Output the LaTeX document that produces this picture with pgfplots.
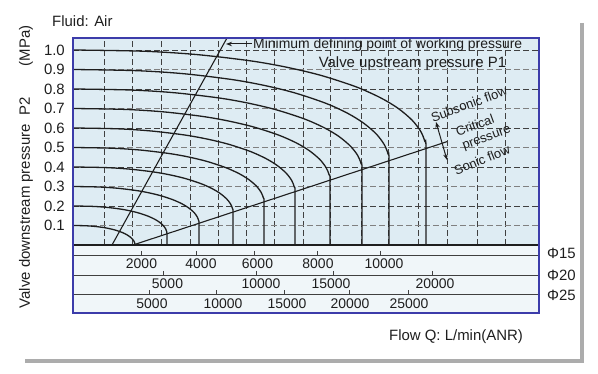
\documentclass[border=0pt]{standalone}
\usepackage{pgfplots}
\pgfplotsset{compat=1.18}
\usepackage{fontspec}
\setmainfont{Liberation Sans}
\usetikzlibrary{arrows.meta}
\definecolor{frameblue}{RGB}{60,60,170}
\definecolor{mainbg}{RGB}{222,236,243}
\definecolor{bandbg}{RGB}{240,246,249}
\definecolor{ink}{RGB}{30,30,30}
\definecolor{shadowgray}{RGB}{172,172,172}
\newcommand{\fs}[1]{\fontsize{#1}{#1}\selectfont}
\begin{document}
\begin{tikzpicture}
\useasboundingbox (0,0) rectangle (598bp,374bp);
\begin{axis}[
  at={(73bp,61bp)}, anchor=south west,
  scale only axis, width=466bp, height=275bp,
  xmin=73, xmax=539, ymin=-0.34872, ymax=1.06154,
  clip=false, axis on top,
  axis line style={draw=frameblue, line width=1.3bp},
  axis background/.style={fill=mainbg},
  xtick=\empty,
  ytick={0.1,0.2,0.3,0.4,0.5,0.6,0.7,0.8,0.9,1.0},
  yticklabels={0.1,0.2,0.3,0.4,0.5,0.6,0.7,0.8,0.9,1.0},
  major tick length=0pt,
  yticklabel style={font=\fs{15}, text=ink, inner sep=0pt, xshift=-8bp},
  gridv/.style={ink!85, line width=0.8bp, dash pattern=on 6bp off 3bp},
  curve/.style={ink, line width=1.3bp, smooth, tension=0.5},
  every axis plot/.append style={mark=none},
]
% lower band background
\addplot[fill=bandbg, draw=none] coordinates {(73,-0.34872) (539,-0.34872) (539,0) (73,0)} -- cycle;
% vertical grid (main area only)
\addplot[gridv, unbounded coords=jump] coordinates {
(104,0) (104,1.06154) (104,nan)
(132,0) (132,1.06154) (132,nan)
(161,0) (161,1.06154) (161,nan)
(190,0) (190,1.06154) (190,nan)
(218,0) (218,1.06154) (218,nan)
(246,0) (246,1.06154) (246,nan)
(274,0) (274,1.06154) (274,nan)
(303,0) (303,1.06154) (303,nan)
(330,0) (330,1.06154) (330,nan)
(361,0) (361,1.06154) (361,nan)
(388,0) (388,1.06154) (388,nan)
(418,0) (418,1.06154) (418,nan)
(447,0) (447,1.06154) (447,nan)
(477,0) (477,1.06154) (477,nan)
(505,0) (505,1.06154)
};
% horizontal grid
\addplot[gridv, gray, unbounded coords=jump] coordinates {
(73,0.1) (539,0.1) (nan,0.1)
(73,0.3) (539,0.3) (nan,0.3)
(73,0.5) (539,0.5) (nan,0.5)
(73,0.7) (539,0.7) (nan,0.7)
(73,0.9) (539,0.9)
};
\addplot[gridv, unbounded coords=jump] coordinates {
(73,0.2) (539,0.2) (nan,0.2)
(73,0.4) (539,0.4) (nan,0.4)
(73,0.6) (539,0.6) (nan,0.6)
(73,0.8) (539,0.8) (nan,0.8)
(73,1.0) (539,1.0)
};
% characteristic curves, P1 = 1.0 ... 0.1 MPa
\addplot[curve] coordinates {(73,1.0) (143.6,0.9937) (196.6,0.9766) (249.5,0.9451) (284.8,0.9136) (320.1,0.871) (355.4,0.8124) (380.1,0.7561) (397.8,0.7019) (411.9,0.6412) (420.7,0.5827) (424.9,0.5305) (426,0.488) (426,0)};
\addplot[curve] coordinates {(73,0.9) (136.2,0.8941) (183.6,0.8784) (231,0.8492) (262.6,0.8202) (294.2,0.7809) (325.8,0.7267) (347.9,0.6747) (363.7,0.6246) (376.4,0.5686) (384.3,0.5145) (388.1,0.4663) (389,0.427) (389,0)};
\addplot[curve] coordinates {(73,0.8) (130.8,0.7948) (174.2,0.7809) (217.5,0.7551) (246.4,0.7295) (275.3,0.6947) (304.2,0.6468) (324.4,0.6009) (338.9,0.5566) (350.4,0.5071) (357.7,0.4593) (361.1,0.4167) (362,0.382) (362,0)};
\addplot[curve] coordinates {(73,0.7) (124.4,0.6954) (163,0.683) (201.5,0.6601) (227.2,0.6372) (252.9,0.6063) (278.6,0.5637) (296.6,0.5228) (309.4,0.4834) (319.7,0.4393) (326.1,0.3968) (329.2,0.3589) (330,0.328) (330,0)};
\addplot[curve] coordinates {(73,0.6) (117.4,0.5959) (150.7,0.5849) (184,0.5646) (206.2,0.5443) (228.4,0.5169) (250.6,0.4791) (266.1,0.4428) (277.2,0.4078) (286.1,0.3688) (291.7,0.331) (294.3,0.2974) (295,0.27) (295,0)};
\addplot[curve] coordinates {(73,0.5) (111.2,0.4965) (139.9,0.4871) (168.5,0.4697) (187.6,0.4524) (206.7,0.429) (225.8,0.3967) (239.2,0.3657) (248.7,0.3358) (256.4,0.3024) (261.1,0.2702) (263.4,0.2414) (264,0.218) (264,0)};
\addplot[curve] coordinates {(73,0.4) (105,0.3971) (129,0.3894) (153,0.375) (169,0.3607) (185,0.3413) (201,0.3146) (212.2,0.289) (220.2,0.2643) (226.6,0.2367) (230.6,0.2101) (232.5,0.1863) (233,0.167) (233,0)};
\addplot[curve] coordinates {(73,0.3) (98.2,0.2976) (117.1,0.2913) (136,0.2796) (148.6,0.2679) (161.2,0.2521) (173.8,0.2304) (182.6,0.2095) (188.9,0.1894) (194,0.1669) (197.1,0.1451) (198.6,0.1258) (199,0.11) (199,0)};
\addplot[curve] coordinates {(73,0.2) (91.8,0.1982) (105.9,0.1935) (120,0.1847) (129.4,0.1759) (138.8,0.164) (148.2,0.1476) (154.8,0.1319) (159.5,0.1167) (163.2,0.0998) (165.6,0.0835) (166.7,0.0689) (167,0.057) (167,0)};
\addplot[curve] coordinates {(73,0.1) (85.4,0.0988) (94.7,0.0954) (104,0.0893) (110.2,0.0831) (116.4,0.0748) (122.6,0.0634) (126.9,0.0524) (130,0.0418) (132.5,0.0299) (134.1,0.0185) (134.8,0.0083) (135,0)};
% critical pressure line and minimum working pressure line
\addplot[ink, line width=1.1bp] coordinates {(133,0) (447,0.53)};
\addplot[ink, line width=1.1bp] coordinates {(112,0) (227,1.06154)};
% lower scales
\addplot[ink, line width=2.2bp] coordinates {(73,0) (539,0)};
\addplot[ink!85, line width=0.9bp, unbounded coords=jump] coordinates {
(73,-0.05128) (539,-0.05128) (nan,0)
(73,-0.15385) (539,-0.15385) (nan,0)
(73,-0.25385) (539,-0.25385)};
\addplot[ink!85, line width=0.9bp, unbounded coords=jump] coordinates {
(141,-0.03077) (141,-0.05128) (nan,0)
(196,-0.03077) (196,-0.05128) (nan,0)
(254,-0.03077) (254,-0.05128) (nan,0)
(317,-0.03077) (317,-0.05128) (nan,0)
(380,-0.03077) (380,-0.05128) (nan,0)
(163,-0.1333) (163,-0.15385) (nan,0)
(256,-0.1333) (256,-0.15385) (nan,0)
(333,-0.1333) (333,-0.15385) (nan,0)
(432,-0.1333) (432,-0.15385) (nan,0)
(149,-0.2333) (149,-0.25385) (nan,0)
(216,-0.2333) (216,-0.25385) (nan,0)
(284,-0.2333) (284,-0.25385) (nan,0)
(349,-0.2333) (349,-0.25385) (nan,0)
(408,-0.2333) (408,-0.25385)};
% scale numbers
\begin{scope}[every node/.style={font=\fs{14}, text=ink, inner sep=0pt}]
\node at (axis cs:141.5,-0.0974) {2000};
\node at (axis cs:201,-0.0974) {4000};
\node at (axis cs:257.5,-0.0974) {6000};
\node at (axis cs:318,-0.0974) {8000};
\node at (axis cs:384,-0.0974) {10000};
\node at (axis cs:167.5,-0.2) {5000};
\node at (axis cs:261,-0.2) {10000};
\node at (axis cs:331,-0.2) {15000};
\node at (axis cs:435,-0.2) {20000};
\node at (axis cs:152,-0.3) {5000};
\node at (axis cs:223,-0.3) {10000};
\node at (axis cs:287,-0.3) {15000};
\node at (axis cs:350,-0.3) {20000};
\node at (axis cs:409,-0.3) {25000};
\node[anchor=west, font=\fs{15}] at (axis cs:547,-0.041) {Φ15};
\node[anchor=west, font=\fs{15}] at (axis cs:547,-0.154) {Φ20};
\node[anchor=west, font=\fs{15}] at (axis cs:547,-0.256) {Φ25};
\end{scope}
% annotations
\node[font=\fs{14}, text=ink, anchor=west, inner sep=0pt] at (axis cs:253,1.0256) {Minimum defining point of working pressure};
\draw[ink, line width=1bp, -{Stealth[length=6bp,width=4.5bp]}] (axis cs:252,1.0308) -- (axis cs:226,1.0308);
\node[font=\fs{15}, text=ink, inner sep=0pt] at (axis cs:412.5,0.928) {Valve upstream pressure P1};
\node[font=\fs{13}, text=ink, rotate=20, inner sep=0pt] at (axis cs:469,0.7231) {Subsonic flow};
\node[font=\fs{13}, text=ink, rotate=20, inner sep=0pt] at (axis cs:475,0.6154) {Critical};
\node[font=\fs{13}, text=ink, rotate=20, inner sep=0pt] at (axis cs:487,0.5436) {pressure};
\node[font=\fs{13}, text=ink, rotate=22, inner sep=0pt] at (axis cs:482,0.437) {Sonic flow};
\draw[ink, line width=1bp, {Stealth[length=6bp,width=4.5bp]}-{Stealth[length=6bp,width=4.5bp]}] (axis cs:436,0.6308) -- (axis cs:447,0.4359);
% titles
\node[font=\fs{15}, text=ink, anchor=west, inner sep=0pt] at (axis cs:52,1.1487) {Fluid: Air};
\node[font=\fs{15}, text=ink, rotate=90, inner sep=0pt] at (axis cs:26,1.0205) {(MPa)};
\node[font=\fs{15}, text=ink, rotate=90, inner sep=0pt] at (axis cs:26,0.2154) {Valve downstream pressure\ \ P2};
\node[font=\fs{15}, text=ink, inner sep=0pt] at (axis cs:456,-0.4718) {Flow Q: L/min(ANR)};
% frame shadow
\draw[shadowgray, line width=4bp] (axis cs:582,1.1385) -- (axis cs:582,-0.5949) -- (axis cs:25,-0.5949);
\end{axis}
\end{tikzpicture}
\end{document}
